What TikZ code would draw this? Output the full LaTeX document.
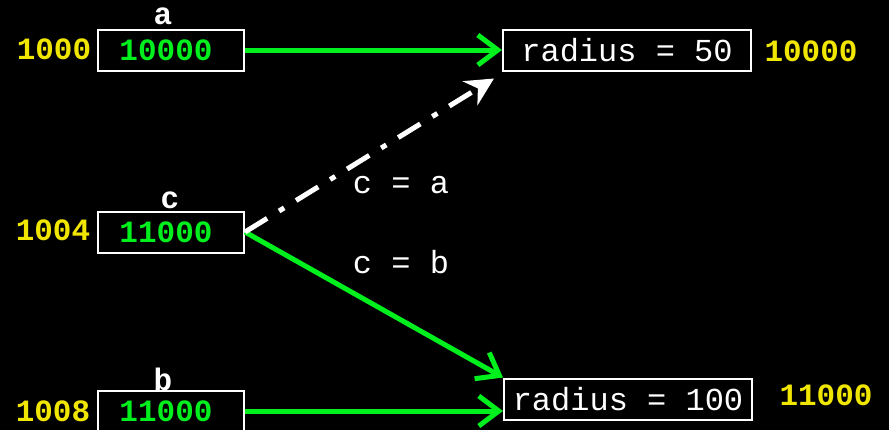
\documentclass[tikz,border=0pt]{standalone}
\usepackage{fontspec}
\setmonofont{Liberation Mono}
\usetikzlibrary{arrows.meta, positioning, calc}
\definecolor{vgreen}{RGB}{0,240,30}
\definecolor{vyellow}{RGB}{240,230,0}

\begin{document}
\begin{tikzpicture}[x=0.5pt, y=-0.5pt,
        cell/.style={rectangle, draw=white, line width=1pt, minimum width=73pt, minimum height=20.5pt, inner sep=0pt, font=\ttfamily\bfseries\fontsize{15.5}{18}\selectfont, text=vgreen},
        objbox/.style={rectangle, draw=white, line width=1pt, minimum width=124pt, minimum height=20.5pt, inner sep=0pt, font=\ttfamily\fontsize{16}{18}\selectfont, text=white},
        addr/.style={font=\ttfamily\bfseries\fontsize{15.5}{18}\selectfont, text=vyellow, inner sep=0pt},
        varname/.style={font=\ttfamily\bfseries\fontsize{15.5}{18}\selectfont, text=white, inner sep=0pt},
        note/.style={font=\ttfamily\fontsize{16}{18}\selectfont, text=white, inner sep=0pt},
        ptr/.style={-{Straight Barb[length=10pt, width=15pt, line width=2.5pt]}, line width=2.5pt, draw=vgreen},
        oldptr/.style={-{Stealth[length=14pt, width=14pt]}, line width=2.5pt, draw=white, dash pattern=on 13pt off 7pt on 3pt off 7pt}
    ]
        % Background
        \fill[black] (0,0) rectangle (889,430);
        \useasboundingbox (0,0) rectangle (889,430);

        % Variables
        \node[cell] (a) at (171,50) {\hspace*{-5pt}10000};
        \node[cell] (c) at (171,232) {\hspace*{-5pt}11000};
        \node[cell] (b) at (171,411) {\hspace*{-5pt}11000};
        \node[varname] at (163,16) {a};
        \node[varname] at (170,200) {c};
        \node[varname] at (163,379) {b};
        \node[addr] at (54,49) {1000};
        \node[addr] at (53,230) {1004};
        \node[addr] at (53,411) {1008};

        % Objects
        \node[objbox] (obj1) at (627,50) {radius = 50};
        \node[objbox] (obj2) at (628,399) {radius = 100};
        \node[addr] at (811,51) {10000};
        \node[addr] at (826,395) {11000};

        % Pointers
        \draw[ptr] (a.east) -- (obj1.west);
        \draw[ptr] (b.east) -- (b.east -| obj2.west);
        \draw[ptr] (c.east) -- (obj2.north west);
        \draw[oldptr] (c.east) -- ($(obj1.south west)+(-8,7)$);

        % Assignments
        \node[note] at (401,185) {c = a};
        \node[note] at (401,262) {c = b};
    \end{tikzpicture}
\end{document}
